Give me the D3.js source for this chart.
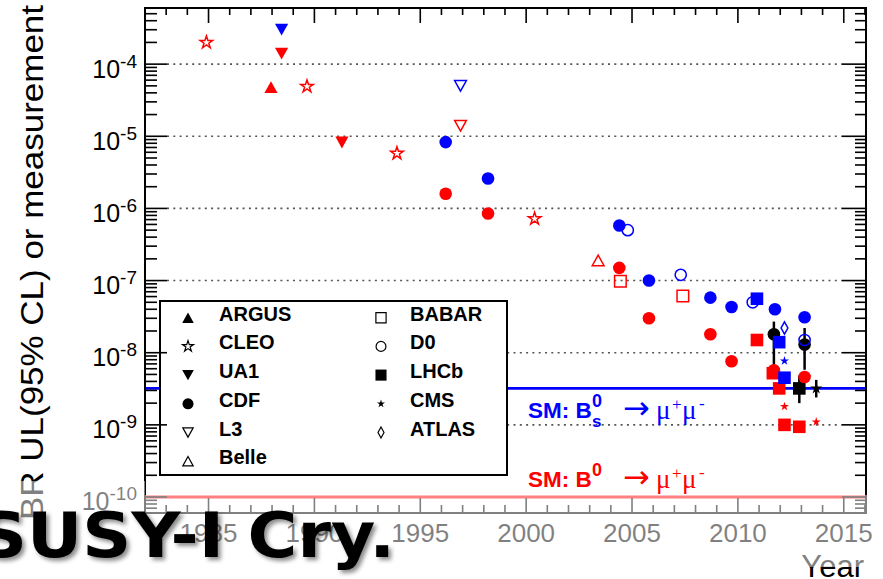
<!DOCTYPE html>
<html>
<head>
<meta charset="utf-8">
<script src="https://cdn.jsdelivr.net/npm/d3@7/dist/d3.min.js"></script>
<style>
  body { margin: 0; background: #fff; }
</style>
</head>
<body>
<div id="chart"></div>
<script>
// legend, two columns
const legendCol1 = ["ARGUS", "CLEO", "UA1", "CDF", "L3", "Belle"];
const legendCol2 = ["BABAR", "D0", "LHCb", "CMS", "ATLAS"];

// upper limits (95% CL), in drawing order
const limitExp = ["CLEO","UA1","UA1","ARGUS","CLEO","UA1","CLEO","L3","L3","CDF",
  "CDF","CDF","CDF","CLEO","Belle","CDF","D0","CDF","BABAR","CDF",
  "CDF","D0","BABAR","CDF","CDF","CDF","CDF","D0","LHCb","LHCb",
  "CDF","LHCb","CDF","ATLAS","LHCb","LHCb","CMS","CMS","LHCb","LHCb",
  "LHCb","CDF","D0","CDF","CMS"];
const limitYear = [1984.9,1988.45,1988.45,1987.95,1989.65,1991.3,1993.9,1996.9,1996.9,1996.2,
  1996.2,1998.2,1998.2,2000.4,2003.4,2004.4,2004.8,2004.4,2004.45,2005.8,
  2005.8,2007.3,2007.4,2008.7,2008.7,2009.7,2009.7,2010.7,2010.9,2010.9,
  2011.75,2011.65,2011.7,2012.2,2011.95,2011.95,2012.2,2012.2,2012.2,2012.2,
  2012.9,2013.15,2013.15,2013.15,2013.7];
const limitValue = [2.0e-4,3.0e-4,1.4e-4,4.8e-5,4.9e-5,8.2e-6,5.8e-6,5.0e-5,1.4e-5,8.3e-6,
  1.6e-6,2.6e-6,8.5e-7,7.2e-7,1.9e-7,5.8e-7,5.0e-7,1.5e-7,9.8e-8,1.0e-7,
  3.0e-8,1.2e-7,6.1e-8,5.8e-8,1.8e-8,4.3e-8,7.6e-9,5.0e-8,5.6e-8,1.5e-8,
  4.0e-8,5.2e-9,5.7e-9,2.2e-8,1.4e-8,3.2e-9,7.7e-9,1.8e-9,4.5e-9,1.0e-9,
  9.4e-10,3.1e-8,1.5e-8,4.6e-9,1.1e-9];
const limitMeson = ["B0","Bs","B0","B0","B0","B0","B0","Bs","B0","Bs",
  "B0","Bs","B0","B0","B0","Bs","Bs","B0","B0","Bs",
  "B0","Bs","B0","Bs","B0","Bs","B0","Bs","Bs","B0",
  "Bs","B0","B0","Bs","Bs","B0","Bs","B0","Bs","B0",
  "B0","Bs","Bs","B0","B0"];

// Bs measurements (black) with error range
const measExp = ["CDF", "LHCb", "CDF", "CMS"];
const measYear = [2011.7, 2012.9, 2013.15, 2013.7];
const measValue = [1.8e-8, 3.2e-9, 1.3e-8, 3.2e-9];
const measLow = [6.5e-9, 2.0e-9, 5.8e-9, 2.4e-9];
const measHigh = [2.7e-8, 4.8e-9, 2.2e-8, 4.2e-9];

// SM predictions
const smBs = 3.2e-9;
const smB0 = 1.0e-10;

const yearLabels = [1985, 1990, 1995, 2000, 2005, 2010, 2015];
const decadeLabels = [-10, -9, -8, -7, -6, -5, -4];

// marker look per experiment
const markerStyle = {
  ARGUS: { shape: "triUp", filled: true },
  CLEO:  { shape: "star", filled: false },
  UA1:   { shape: "triDown", filled: true },
  CDF:   { shape: "circle", filled: true },
  L3:    { shape: "triDown", filled: false },
  Belle: { shape: "triUp", filled: false },
  BABAR: { shape: "square", filled: false },
  D0:    { shape: "circle", filled: false },
  LHCb:  { shape: "square", filled: true },
  CMS:   { shape: "smallStar", filled: true },
  ATLAS: { shape: "diamond", filled: false }
};
const mesonColor = { Bs: "#0000ff", B0: "#ff0000" };

const width = 883, height = 579;
const box = { left: 145, right: 866, top: 8, bottom: 513 };
const sans = "'Liberation Sans', Arial, Helvetica, sans-serif";

const svg = d3.select("#chart").append("svg")
  .attr("width", width)
  .attr("height", height);

const x = d3.scaleLinear().domain([1982, 2016.05]).range([box.left, box.right]);
const y = d3.scaleLog().domain([6e-11, 6e-4]).range([box.bottom, box.top]);

const isDecade = v => Math.abs(Math.log10(v) - Math.round(Math.log10(v))) < 1e-6;

function markerPath(shape, filled, k) {
  k = k || 1;
  if (shape === "circle") {
    const r = (filled ? 6.3 : 5.6) * k;
    return d3.symbol(d3.symbolCircle, Math.PI * r * r)();
  }
  if (shape === "square") {
    const h = (filled ? 6.3 : 5.8) * k;
    return `M${-h},${-h}H${h}V${h}H${-h}Z`;
  }
  if (shape === "triUp" || shape === "triDown") {
    const w = (filled ? 6.6 : 5.9) * k, t = (filled ? 5.9 : 5.3) * k;
    const s = shape === "triUp" ? 1 : -1;
    return `M0,${-t * s}L${w},${t * s}L${-w},${t * s}Z`;
  }
  if (shape === "star") {
    const R = 6.6 * k;
    return d3.symbol(d3.symbolStar, R * R / 0.8908)();
  }
  if (shape === "smallStar") {
    const R = 4.8 * k;
    return d3.symbol(d3.symbolStar, R * R / 0.8908)();
  }
  if (shape === "diamond") {
    const hh = 6.2 * k, hw = 3.4 * k;
    return `M0,${-hh}L${hw},0L0,${hh}L${-hw},0Z`;
  }
}

function styleMarker(sel, filled, color) {
  sel.attr("fill", filled ? color : "none")
    .attr("stroke", filled ? "none" : color)
    .attr("stroke-width", filled ? 0 : 1.5);
}

// dotted grid at decades
const yTickVals = y.ticks();
const gridDecades = yTickVals.filter(v => isDecade(v) && v > 2e-10);
svg.append("g").selectAll("line")
  .data(gridDecades)
  .enter().append("line")
  .attr("x1", box.left + 22).attr("x2", box.right - 24)
  .attr("y1", d => y(d)).attr("y2", d => y(d))
  .attr("stroke", "#555")
  .attr("stroke-width", 1.6)
  .attr("stroke-dasharray", "2,4.3");

// SM lines
svg.append("line")
  .attr("x1", box.left).attr("x2", box.right)
  .attr("y1", y(smBs)).attr("y2", y(smBs))
  .attr("stroke", "#0000ff").attr("stroke-width", 2.7);
svg.append("line")
  .attr("x1", box.left).attr("x2", box.right)
  .attr("y1", y(smB0)).attr("y2", y(smB0))
  .attr("stroke", "#ff0000").attr("stroke-width", 3);

// legend
const legend = svg.append("g");
legend.append("rect")
  .attr("x", 160).attr("y", 301).attr("width", 347).attr("height", 174)
  .attr("fill", "#fff").attr("stroke", "#000").attr("stroke-width", 2);

function legendColumn(names, symX, textX) {
  const row = legend.selectAll(null)
    .data(names)
    .enter().append("g")
    .attr("transform", (d, i) => `translate(0, ${320.7 + i * 28.7})`);
  row.append("path")
    .attr("transform", `translate(${symX}, -3)`)
    .attr("d", d => markerPath(markerStyle[d].shape, markerStyle[d].filled, 0.88))
    .each(function(d) { styleMarker(d3.select(this), markerStyle[d].filled, "#000"); })
    .attr("stroke-width", d => markerStyle[d].filled ? 0 : 1.2);
  row.append("text")
    .attr("x", textX)
    .text(d => d)
    .style("font-family", sans)
    .style("font-weight", "bold")
    .style("font-size", "20px")
    .attr("fill", "#000");
}
legendColumn(legendCol1, 188, 219);
legendColumn(legendCol2, 381, 410);

// measurements: error bars and markers
const meas = measExp.map((e, i) => ({ exp: e, year: measYear[i], v: measValue[i], lo: measLow[i], hi: measHigh[i] }));
svg.append("g").selectAll("line")
  .data(meas)
  .enter().append("line")
  .attr("x1", d => x(d.year)).attr("x2", d => x(d.year))
  .attr("y1", d => y(d.hi)).attr("y2", d => y(d.lo))
  .attr("stroke", "#000").attr("stroke-width", 2.5);
svg.append("g").selectAll("path")
  .data(meas)
  .enter().append("path")
  .attr("transform", d => `translate(${x(d.year)}, ${y(d.v)})`)
  .attr("d", d => {
    const st = markerStyle[d.exp];
    return markerPath(st.shape === "smallStar" ? "star" : st.shape, true, st.shape === "smallStar" ? 0.95 : 1);
  })
  .attr("fill", "#000");

// upper limits
const limits = limitExp.map((e, i) => ({ exp: e, year: limitYear[i], v: limitValue[i], meson: limitMeson[i] }));
svg.append("g").selectAll("path")
  .data(limits)
  .enter().append("path")
  .attr("transform", d => `translate(${x(d.year)}, ${y(d.v)})`)
  .attr("d", d => markerPath(markerStyle[d.exp].shape, markerStyle[d.exp].filled))
  .each(function(d) { styleMarker(d3.select(this), markerStyle[d.exp].filled, mesonColor[d.meson]); });

// frame
svg.append("rect")
  .attr("x", box.left).attr("y", box.top)
  .attr("width", box.right - box.left).attr("height", box.bottom - box.top)
  .attr("fill", "none").attr("stroke", "#000").attr("stroke-width", 2);

// ticks on all four sides, pointing inward
const xTickVals = d3.range(1982, 2017);
const tickG = svg.append("g");
tickG.selectAll(null).data(yTickVals).enter().append("rect")
  .attr("x", box.left).attr("y", d => y(d) - 0.8)
  .attr("width", d => isDecade(d) ? 22 : 12).attr("height", 1.6)
  .attr("fill", "#000");
tickG.selectAll(null).data(yTickVals).enter().append("rect")
  .attr("x", d => box.right - (isDecade(d) ? 24 : 11)).attr("y", d => y(d) - 0.8)
  .attr("width", d => isDecade(d) ? 24 : 11).attr("height", 1.6)
  .attr("fill", "#000");
tickG.selectAll(null).data(xTickVals).enter().append("rect")
  .attr("x", d => x(d) - 0.8).attr("y", box.top)
  .attr("width", 1.6).attr("height", d => d % 5 === 0 ? 15 : 7)
  .attr("fill", "#000");
tickG.selectAll(null).data(xTickVals).enter().append("rect")
  .attr("x", d => x(d) - 0.8).attr("y", d => box.bottom - (d % 5 === 0 ? 15 : 8))
  .attr("width", 1.6).attr("height", d => d % 5 === 0 ? 15 : 8)
  .attr("fill", "#000");

// y tick labels 10^n
const yl = svg.append("g").selectAll("text")
  .data(decadeLabels)
  .enter().append("text")
  .attr("x", 137)
  .attr("y", d => y(Math.pow(10, d)) + 13.5)
  .attr("text-anchor", "end")
  .style("font-family", sans)
  .attr("fill", "#000");
yl.append("tspan").style("font-size", "25px").text("10");
yl.append("tspan").style("font-size", "19px").attr("dy", -10).text(d => String(d));

// x tick labels
svg.append("g").selectAll("text")
  .data(yearLabels)
  .enter().append("text")
  .attr("x", d => x(d))
  .attr("y", 542)
  .attr("text-anchor", "middle")
  .style("font-family", sans)
  .style("font-size", "26px")
  .attr("fill", "#000")
  .text(d => d);

// axis titles
svg.append("text")
  .attr("transform", "translate(43, 520) rotate(-90)")
  .attr("textLength", 515)
  .attr("lengthAdjust", "spacingAndGlyphs")
  .style("font-family", sans)
  .style("font-size", "32px")
  .attr("fill", "#000")
  .text("BR UL(95% CL) or measurement");
svg.append("text")
  .attr("x", 864).attr("y", 577)
  .attr("text-anchor", "end")
  .style("font-family", sans)
  .style("font-size", "31px")
  .attr("fill", "#000")
  .text("Year");

// SM labels
function smLabel(color, base, sub) {
  const g = svg.append("g").attr("fill", color);
  const serif = "'Liberation Serif', 'Times New Roman', serif";
  g.append("text").attr("x", 528).attr("y", base)
    .style("font-family", sans).style("font-weight", "bold").style("font-size", "22.5px")
    .text("SM: B");
  g.append("text").attr("x", 592).attr("y", base - 11.5)
    .style("font-family", sans).style("font-weight", "bold").style("font-size", "18px")
    .text("0");
  if (sub) {
    g.append("text").attr("x", 592).attr("y", base + 8.5)
      .style("font-family", sans).style("font-weight", "bold").style("font-size", "17px")
      .text(sub);
  }
  g.append("text").attr("x", 623).attr("y", base + 1)
    .style("font-family", "'DejaVu Sans', sans-serif").style("font-size", "32px")
    .text("\u2192");
  g.append("text").attr("x", 656).attr("y", base + 1)
    .style("font-family", serif).style("font-size", "27px")
    .text("\u03bc");
  g.append("text").attr("x", 672).attr("y", base - 8)
    .style("font-family", serif).style("font-size", "17px")
    .text("+");
  g.append("text").attr("x", 682).attr("y", base + 1)
    .style("font-family", serif).style("font-size", "27px")
    .text("\u03bc");
  g.append("text").attr("x", 699).attr("y", base - 9)
    .style("font-family", serif).style("font-size", "17px")
    .text("-");
}
smLabel("#0000ff", 418, "s");
smLabel("#ff0000", 487, null);

// translucent white band of the slide over the lower part
svg.append("path")
  .attr("d", "M0,481H145V495H883V567H0Z")
  .attr("fill", "#fff")
  .attr("opacity", 0.5);

// slide overlay text with soft shadow
const defs = svg.append("defs");
defs.append("filter").attr("id", "shadow")
  .attr("x", "-10%").attr("y", "-20%").attr("width", "130%").attr("height", "150%")
  .append("feDropShadow")
  .attr("dx", 3).attr("dy", 3).attr("stdDeviation", 2)
  .attr("flood-color", "#000").attr("flood-opacity", 0.45);

svg.append("text")
  .attr("x", -22).attr("y", 557)
  .attr("textLength", 417)
  .attr("lengthAdjust", "spacingAndGlyphs")
  .style("font-family", "'Comic Sans MS', 'DejaVu Sans', sans-serif")
  .style("font-weight", "bold")
  .style("font-size", "62px")
  .attr("fill", "#000")
  .attr("filter", "url(#shadow)")
  .text("SUSY-I Cry.");
</script>
</body>
</html>
